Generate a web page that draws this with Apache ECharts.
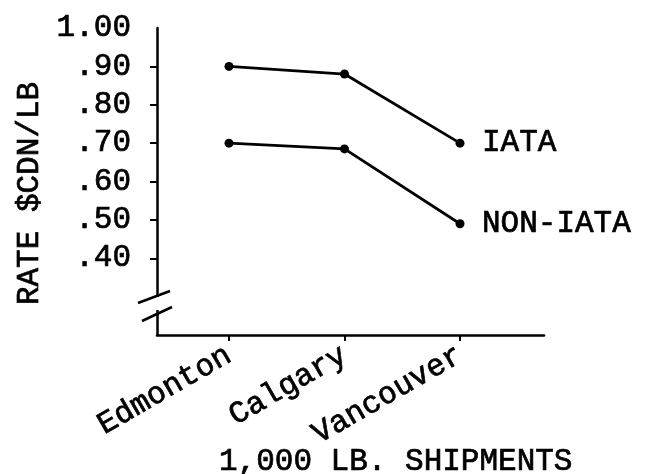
<!DOCTYPE html>
<html>
<head>
<meta charset="utf-8">
<script src="https://cdn.jsdelivr.net/npm/echarts@6/dist/echarts.min.js"></script>
<style>html,body{margin:0;padding:0;background:#fff}#c{width:653px;height:474px}</style>
</head>
<body>
<div id="c"></div>
<script>
var categories = ['Edmonton', 'Calgary', 'Vancouver'];
var iata = [0.90, 0.88, 0.70];
var nonIata = [0.70, 0.685, 0.49];
var yTicks = [0.4, 0.5, 0.6, 0.7, 0.8, 0.9, 1.0];
var seriesNames = ['IATA', 'NON-IATA'];
var xTitle = '1,000 LB. SHIPMENTS';
var yTitle = 'RATE $CDN/LB';

var FONT = 'Liberation Mono';
var chart = echarts.init(document.getElementById('c'));
var txt = {fontFamily: FONT, fontSize: 31, color: '#000', fontWeight: 'normal',
           textBorderColor: '#000', textBorderWidth: 0.7};
chart.setOption({
  animation: false,
  backgroundColor: '#fff',
  title: {text: xTitle, left: 214, top: 441, textStyle: Object.assign({}, txt)},
  grid: [
    {left: 157, right: 109, top: 28, bottom: 139},
    {left: 229, right: 193, top: 28, bottom: 139}
  ],
  xAxis: [
    {gridIndex: 0, type: 'value', min: 0, max: 1, axisLine: {lineStyle: {color: '#000', width: 2.5}},
     axisTick: {show: false}, axisLabel: {show: false}, splitLine: {show: false}},
    {gridIndex: 1, type: 'category', data: categories, boundaryGap: false,
     axisLine: {show: false},
     axisTick: {show: true, length: 6, inside: false, lineStyle: {color: '#000', width: 2}},
     axisLabel: Object.assign({rotate: 30, margin: 18, interval: 0}, txt),
     splitLine: {show: false}}
  ],
  yAxis: [
    {gridIndex: 0, type: 'value', min: 0.2, max: 1.0,
     name: yTitle, nameLocation: 'middle', nameRotate: 90, nameGap: 103,
     nameTextStyle: Object.assign({}, txt, {padding: [0, 24, 0, 0]}),
     axisLine: {show: true, lineStyle: {color: '#000', width: 2.5}},
     axisTick: {show: true, length: 7, customValues: yTicks.slice(0, 6), lineStyle: {color: '#000', width: 2}},
     axisLabel: Object.assign({margin: 26, customValues: yTicks,
       formatter: function (v) { return v > 0.999 ? '1.00' : '.' + Math.round(v * 100); }}, txt),
     splitLine: {show: false}},
    {gridIndex: 1, type: 'value', min: 0.2, max: 1.0, show: false, splitLine: {show: false}}
  ],
  series: [
    {name: seriesNames[0], type: 'line', xAxisIndex: 1, yAxisIndex: 1, data: iata,
     symbol: 'circle', symbolSize: 9, itemStyle: {color: '#000'}, lineStyle: {color: '#000', width: 2.8},
     endLabel: Object.assign({show: true, formatter: '{a}', distance: 22}, txt)},
    {name: seriesNames[1], type: 'line', xAxisIndex: 1, yAxisIndex: 1, data: nonIata,
     symbol: 'circle', symbolSize: 9, itemStyle: {color: '#000'}, lineStyle: {color: '#000', width: 2.8},
     endLabel: Object.assign({show: true, formatter: '{a}', distance: 22}, txt)}
  ],
  graphic: [
    {type: 'rect', shape: {x: 150, y: 297, width: 14, height: 13}, style: {fill: '#fff'}, z: 100},
    {type: 'line', shape: {x1: 138, y1: 303, x2: 170, y2: 291}, style: {stroke: '#000', lineWidth: 2.5}, z: 101},
    {type: 'line', shape: {x1: 142, y1: 321, x2: 172, y2: 307}, style: {stroke: '#000', lineWidth: 2.5}, z: 101}
  ]
});
</script>
</body>
</html>
